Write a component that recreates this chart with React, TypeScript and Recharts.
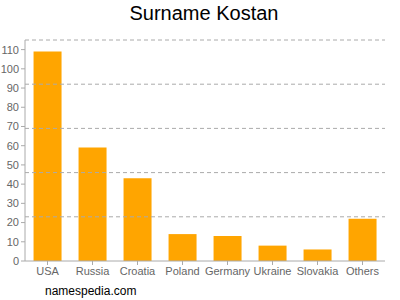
import React from "react";
import { BarChart, Bar, XAxis, YAxis, ReferenceLine } from "recharts";

const countries = ["USA", "Russia", "Croatia", "Poland", "Germany", "Ukraine", "Slovakia", "Others"];
const counts = [109, 59, 43, 14, 13, 8, 6, 22];
const yTicks = [0, 10, 20, 30, 40, 50, 60, 70, 80, 90, 100, 110];
const gridLines = [23, 46, 69, 92, 115];

const data = countries.map((name, i) => ({ name, count: counts[i] }));

const tickStyle = { fontSize: 11, fill: "#666", fontFamily: "Liberation Sans, Arial, sans-serif" };

export default function App() {
  return (
    <div style={{ position: "absolute", left: 0, top: 0, width: 400, height: 300, background: "#fff" }}>
      <div
        style={{
          position: "absolute",
          top: 2,
          left: 0,
          width: 408,
          textAlign: "center",
          fontFamily: "Liberation Sans, Arial, sans-serif",
          fontSize: 20,
          color: "#000",
        }}
      >
        Surname Kostan
      </div>
      <BarChart
        width={400}
        height={300}
        data={data}
        margin={{ top: 40, right: 15, left: 0, bottom: 19 }}
        barCategoryGap="19%"
      >
        {gridLines.map((v) => (
          <ReferenceLine key={v} y={v} stroke="#aaa" strokeDasharray="4 3" />
        ))}
        <XAxis
          dataKey="name"
          interval={0}
          height={20}
          tick={tickStyle}
          tickSize={4}
          stroke="#aaa"
        />
        <YAxis
          width={25}
          domain={[0, 115]}
          ticks={yTicks}
          interval={0}
          tick={tickStyle}
          tickSize={4}
          stroke="#aaa"
        />
        <Bar dataKey="count" fill="#ffa500" isAnimationActive={false} />
      </BarChart>
      <div
        style={{
          position: "absolute",
          top: 284,
          left: 45,
          fontFamily: "Liberation Sans, Arial, sans-serif",
          fontSize: 12,
          color: "#000",
        }}
      >
        namespedia.com
      </div>
    </div>
  );
}
